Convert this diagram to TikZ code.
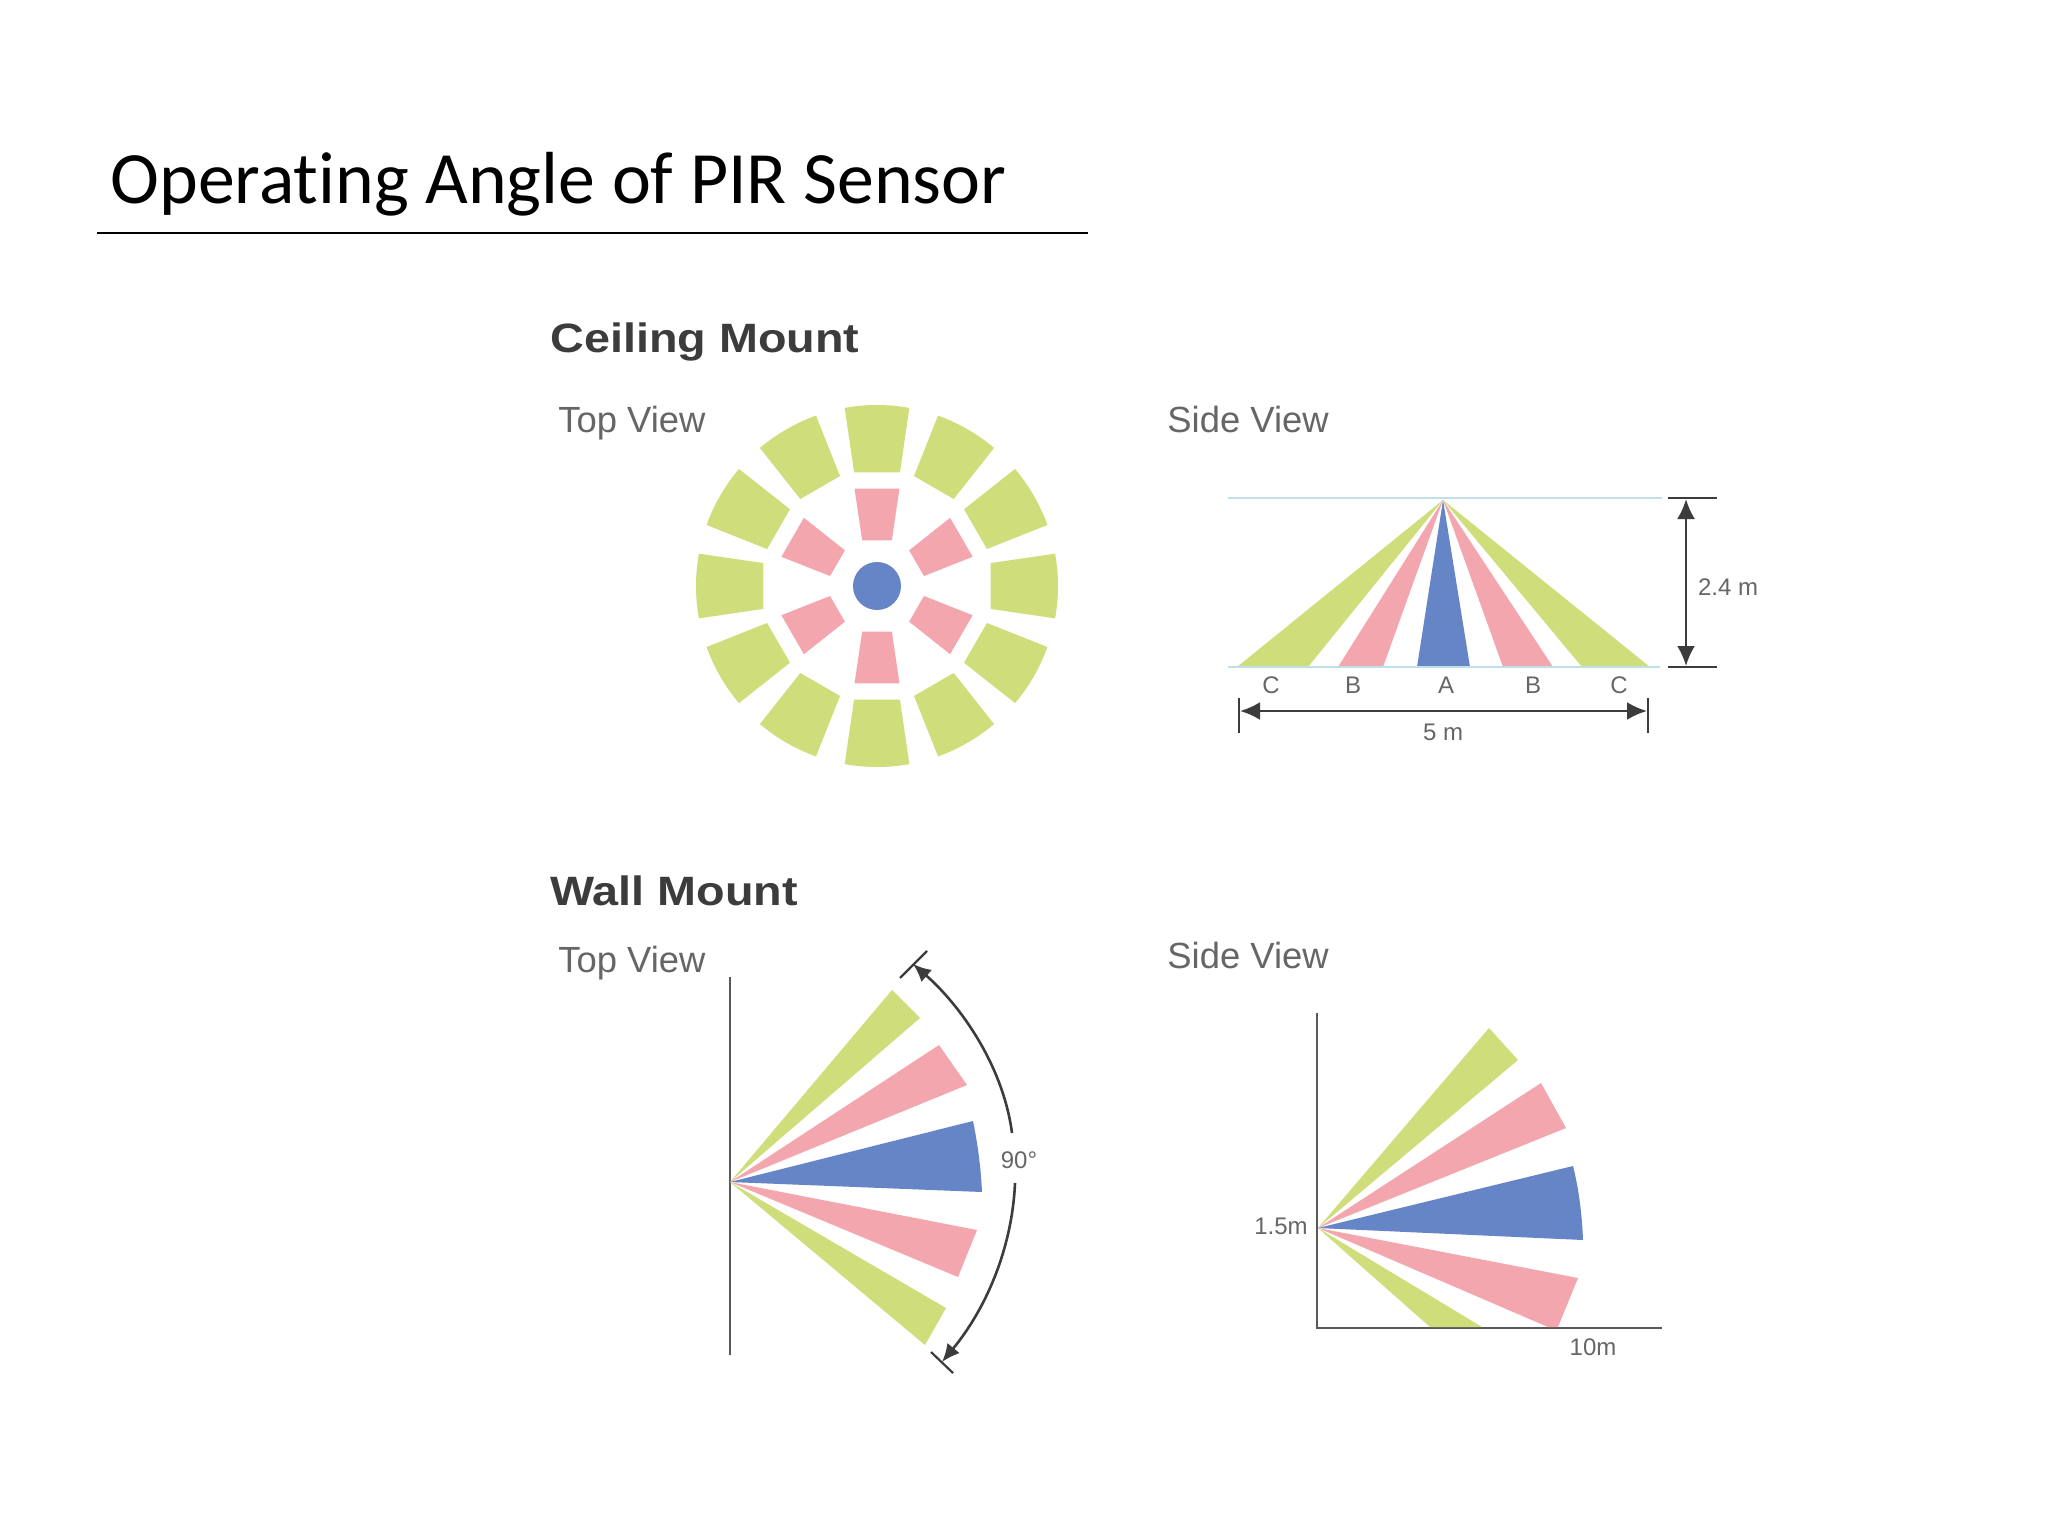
\documentclass[tikz,border=0pt]{standalone}
\usepackage{fontspec}
\setmainfont{Liberation Sans}
\newfontfamily\titlefont[Ligatures=NoCommon]{Carlito}
\newfontfamily\headfont[FakeStretch=1.14]{Liberation Sans}
\usetikzlibrary{arrows.meta}
\definecolor{gr}{HTML}{CFDD7A}
\definecolor{pk}{HTML}{F4A6AE}
\definecolor{bl}{HTML}{6585C6}
\definecolor{lb}{HTML}{BFE0E6}
\definecolor{ink}{HTML}{3C3C3C}
\definecolor{lab}{HTML}{666666}
\newcommand{\sector}[6]{% colour, angle, r1, hw1, r2, hw2
  \fill[#1] ({#2-#4}:#3) -- ({#2-#6}:#5) arc[start angle={#2-#6},end angle={#2+#6},radius=#5] -- ({#2+#4}:#3) -- cycle;}
\newcommand{\flatsector}[6]{% colour, angle, r1, hw1, r2, hw2: straight outer edge
  \fill[#1] ({#2-#4}:#3) -- ({#2-#6}:#5) -- ({#2+#6}:#5) -- ({#2+#4}:#3) -- cycle;}
\tikzset{
  x=0.5pt,y=0.5pt,
  titletext/.style={font=\titlefont\fontsize{36.9}{36.9}\selectfont,anchor=base west,inner sep=0},
  head/.style={font=\headfont\bfseries\fontsize{20.5}{20.5}\selectfont,text=ink,anchor=base west,inner sep=0},
  view/.style={font=\fontsize{18.2}{18.2}\selectfont,text=lab,anchor=base west,inner sep=0},
  small/.style={font=\fontsize{12}{12}\selectfont,text=lab,anchor=base,inner sep=0},
  axis/.style={draw=ink!85,line width=1.2pt},
  dim/.style={draw=ink,line width=1.3pt},
  dimarrow/.style={dim,{Latex[length=10pt,width=9pt]}-{Latex[length=10pt,width=9pt]}},
  tick/.style={draw=ink,line width=1.1pt},
}
\begin{document}
\begin{tikzpicture}
\useasboundingbox (0,0) rectangle (2048,-1536);
\fill[white] (0,0) rectangle (2048,-1536);
% title
\node[titletext] (title) at (110,-203) {Operating Angle of PIR Sensor};
\coordinate (ruleL) at (97,-233);
\coordinate (ruleR) at (1088,-233);
\draw[black,line width=0.6pt] (ruleL) -- (ruleR);
% headings
\node[head] (h1) at (550,-352) {Ceiling Mount};
\node[head] (h2) at (550,-905) {Wall Mount};
\node[view] (v1) at (558,-432) {Top View};
\node[view] (v2) at (1167,-432) {Side View};
\node[view] (v3) at (558,-972) {Top View};
\node[view] (v4) at (1167,-968) {Side View};
% ceiling top view
\begin{scope}[shift={(877,-586)}]
\foreach \a in {0,30,...,330}{\sector{gr}{\a}{116}{11.4}{181}{10.3}}
\foreach \a in {30,90,...,330}{\flatsector{pk}{\a}{48}{18}{100}{13}}
\fill[bl] (0,0) circle[radius=24];
\end{scope}
% ceiling side view
\coordinate (apex) at (1443,-500);
\coordinate (ceilL) at (1228,-498);
\coordinate (ceilR) at (1662,-498);
\coordinate (flrL) at (1228,-667);
\coordinate (flrR) at (1660,-667);
\fill[gr] (apex) -- (1237,-667) -- (1308,-667) -- cycle;
\fill[pk] (apex) -- (1338,-667) -- (1383,-667) -- cycle;
\fill[bl] (apex) -- (1417,-667) -- (1470,-667) -- cycle;
\fill[pk] (apex) -- (1503,-667) -- (1553,-667) -- cycle;
\fill[gr] (apex) -- (1582,-667) -- (1650,-667) -- cycle;
\draw[lb,line width=1.2pt] (ceilL) -- (ceilR);
\draw[lb,line width=1.2pt] (flrL) -- (flrR);
\draw[tick] (1668,-498) -- (1717,-498);
\draw[tick] (1668,-667) -- (1717,-667);
\draw[dimarrow] (1686,-499) -- (1686,-666);
\node[small] (h24) at (1728,-595) {2.4 m};
\draw[tick] (1239,-698) -- (1239,-733);
\draw[tick] (1648,-698) -- (1648,-733);
\draw[dimarrow] (1240,-711) -- (1647,-711);
\node[small] (lc1) at (1271,-693) {C};
\node[small] (lb1) at (1353,-693) {B};
\node[small] (la) at (1446,-693) {A};
\node[small] (lb2) at (1533,-693) {B};
\node[small] (lc2) at (1619,-693) {C};
\node[small] (l5) at (1443,-740) {5 m};
% wall top view
\draw[axis] (730,-977) -- (730,-1355);
\coordinate (w) at (730,-1182);
\fill[gr] (w) -- (892,-990) -- (920,-1018) -- cycle;
\fill[pk] (w) -- (939,-1045) -- (967,-1085) -- cycle;
\fill[bl] (w) -- (973,-1121) .. controls (978,-1145) and (981,-1170) .. (982,-1192) -- cycle;
\fill[pk] (w) -- (977,-1230) -- (958,-1277) -- cycle;
\fill[gr] (w) -- (946,-1308) -- (925,-1345) -- cycle;
\draw[tick] (900,-978) -- (927,-951);
\draw[tick] (931,-1352) -- (953,-1373);
\draw[dim,{Latex[length=9pt,width=8pt]}-] (913,-964) .. controls (960,-1005) and (1003,-1065) .. (1012,-1133);
\draw[dim,-{Latex[length=9pt,width=8pt]}] (1015,-1183) .. controls (1012,-1250) and (985,-1310) .. (942,-1362);
\node[small] (ang) at (1019,-1168) {90°};
% wall side view
\draw[axis] (1317,-1013) -- (1317,-1328) -- (1662,-1328);
\coordinate (s) at (1318,-1228);
\fill[gr] (s) -- (1489,-1028) -- (1518,-1060) -- cycle;
\fill[pk] (s) -- (1541,-1083) -- (1566,-1128) -- cycle;
\fill[bl] (s) -- (1573,-1166) .. controls (1579,-1190) and (1582,-1215) .. (1583,-1240) -- cycle;
\fill[pk] (s) -- (1578,-1278) -- (1558,-1327) -- (1548,-1327) -- cycle;
\fill[gr] (s) -- (1430,-1327) -- (1482,-1327) -- cycle;
\node[small] (l15) at (1281,-1234) {1.5m};
\node[small] (l10) at (1593,-1355) {10m};
\end{tikzpicture}
\end{document}
